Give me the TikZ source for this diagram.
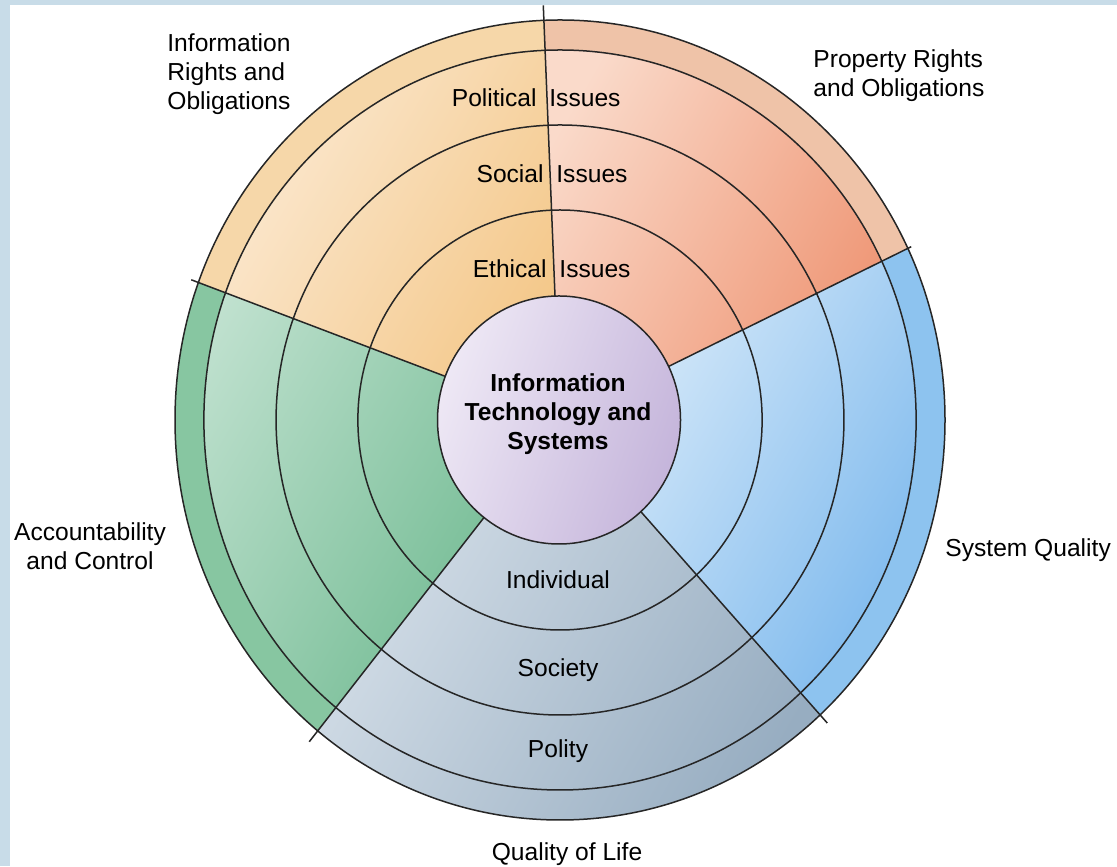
\documentclass[tikz,border=0pt]{standalone}
\usepackage{fontspec}
\setmainfont{Liberation Sans}
\definecolor{fondbleu}{HTML}{C8DCE8}
\definecolor{orclair}{HTML}{FCECD8}
\definecolor{orfonce}{HTML}{F4C88A}
\definecolor{orbande}{HTML}{F6D7A9}
\definecolor{rgclair}{HTML}{FADACA}
\definecolor{rgfonce}{HTML}{EE9270}
\definecolor{rgbande}{HTML}{EFC3A8}
\definecolor{blclair}{HTML}{DDEDFA}
\definecolor{blfonce}{HTML}{74B4EC}
\definecolor{blbande}{HTML}{8DC3EF}
\definecolor{vtclair}{HTML}{C0E1CF}
\definecolor{vtfonce}{HTML}{6CB88E}
\definecolor{vtbande}{HTML}{87C6A1}
\definecolor{grclair}{HTML}{D6E0E9}
\definecolor{grfonce}{HTML}{97ADC1}
\definecolor{mvclair}{HTML}{EEE8F5}
\definecolor{mvfonce}{HTML}{C5B5DB}
\begin{document}
\begin{tikzpicture}[x=0.5pt,y=0.5pt]
	\tikzstyle{bord}=[-,line width=0.75pt,draw=black!85]
	\tikzset{texte/.style={inner sep=0pt,font=\fontsize{12.3}{14.5}\selectfont},secteur/.style={shading angle=60}}
	\useasboundingbox (0,0) rectangle (1117,866);
	\fill[fondbleu] (0,0) rectangle (1117,866);
	\fill[white] (10,0) rectangle (1117,861);
	\begin{scope}[shift={(560,446)},xscale=0.9625]
	% les cinq secteurs
	\fill[left color=orclair,right color=orfonce,secteur] (0,0) -- (92.4:400) arc[start angle=92.4,end angle=159.9,radius=400] -- cycle;
	\fill[left color=vtclair,right color=vtfonce,secteur] (0,0) -- (159.9:400) arc[start angle=159.9,end angle=231,radius=400] -- cycle;
	\fill[left color=grclair,right color=grfonce,secteur] (0,0) -- (231:400) arc[start angle=231,end angle=312.5,radius=400] -- cycle;
	\fill[left color=blclair,right color=blfonce,secteur] (0,0) -- (312.5:400) arc[start angle=312.5,end angle=385.4,radius=400] -- cycle;
	\fill[left color=rgclair,right color=rgfonce,secteur] (0,0) -- (25.4:400) arc[start angle=25.4,end angle=92.4,radius=400] -- cycle;
	% bandes exterieures
	\fill[orbande] (92.4:400) arc[start angle=92.4,end angle=159.9,radius=400] -- (159.9:370) arc[start angle=159.9,end angle=92.4,radius=370] -- cycle;
	\fill[vtbande] (159.9:400) arc[start angle=159.9,end angle=231,radius=400] -- (231:370) arc[start angle=231,end angle=159.9,radius=370] -- cycle;
	\fill[blbande] (312.5:400) arc[start angle=312.5,end angle=385.4,radius=400] -- (385.4:370) arc[start angle=385.4,end angle=312.5,radius=370] -- cycle;
	\fill[rgbande] (25.4:400) arc[start angle=25.4,end angle=92.4,radius=400] -- (92.4:370) arc[start angle=92.4,end angle=25.4,radius=370] -- cycle;
	% anneaux
	\draw[bord] (0,0) circle[radius=210];
	\draw[bord] (0,0) circle[radius=295];
	\draw[bord] (0,0) circle[radius=370];
	\draw[bord] (0,0) circle[radius=400];
	% separations
	\coordinate (s1a) at (92.4:110);
	\coordinate (s1b) at (92.4:415);
	\coordinate (s2a) at (159.9:110);
	\coordinate (s2b) at (159.9:408);
	\coordinate (s3a) at (231:110);
	\coordinate (s3b) at (231:414);
	\coordinate (s4a) at (312.5:110);
	\coordinate (s4b) at (312.5:411);
	\coordinate (s5a) at (25.4:110);
	\coordinate (s5b) at (25.4:404);
	\draw[bord] (s1a) -- (s1b);
	\draw[bord] (s2a) -- (s2b);
	\draw[bord] (s3a) -- (s3b);
	\draw[bord] (s4a) -- (s4b);
	\draw[bord] (s5a) -- (s5b);
	\end{scope}
	\draw[bord,left color=mvclair,right color=mvfonce,shading angle=70] (559,446) ellipse[x radius=121.5,y radius=124];
	\node[texte,anchor=base,align=center,font=\fontsize{12.3}{14.5}\selectfont\bfseries] (centre) at (558,416) {Information\\Technology and\\Systems};
	\node[texte,anchor=base east] (pol) at (537,759) {Political};
	\node[texte,anchor=base west] (polb) at (549,759) {Issues};
	\node[texte,anchor=base east] (soc) at (544,683) {Social};
	\node[texte,anchor=base west] (socb) at (556,683) {Issues};
	\node[texte,anchor=base east] (eth) at (547,588) {Ethical};
	\node[texte,anchor=base west] (ethb) at (559,588) {Issues};
	\node[texte,anchor=base] (ind) at (558,277) {Individual};
	\node[texte,anchor=base] (soci) at (558,189) {Society};
	\node[texte,anchor=base] (poli) at (558,108) {Polity};
	\node[texte,anchor=base west,align=left] (droits) at (167,756) {Information\\Rights and\\Obligations};
	\node[texte,anchor=base west,align=left] (propr) at (813,769) {Property Rights\\and Obligations};
	\node[texte,anchor=base,align=center] (resp) at (90,296) {Accountability\\and Control};
	\node[texte,anchor=base west] (qualsys) at (945,309) {System Quality};
	\node[texte,anchor=base] (qualvie) at (567,6) {Quality of Life};
\end{tikzpicture}
\end{document}
